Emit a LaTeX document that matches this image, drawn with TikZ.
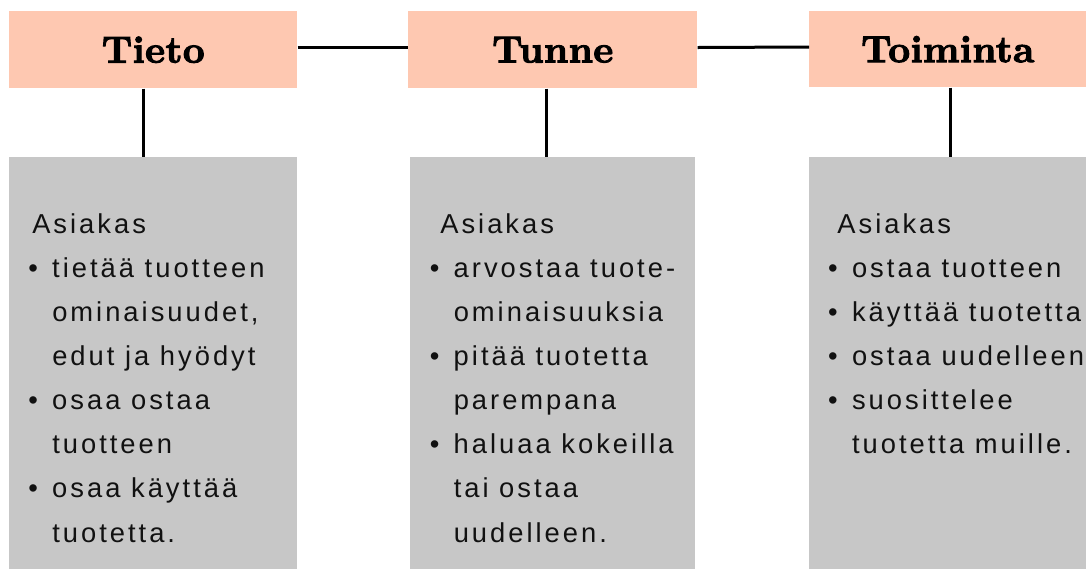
\documentclass[tikz,border=0pt]{standalone}
\usepackage{fontspec}
\usetikzlibrary{calc}
\newfontfamily\bodyfont[LetterSpace=11]{Liberation Sans}
\newfontfamily\headfont[FakeBold=2.6,LetterSpace=1]{lmroman10-bold.otf}
\definecolor{peach}{HTML}{FEC8B1}
\definecolor{panelgray}{HTML}{C7C7C7}
\definecolor{ink}{HTML}{111111}
% list helpers: bullet column and continuation indent
\newcommand\bul{\makebox[18pt][l]{•}}
\newcommand\ind{\hspace*{18pt}}
\newcommand\panel[2]{\parbox[t]{200pt}{\raggedright\parindent=0pt
  \fontsize{20.5pt}{33.08pt}\selectfont\bodyfont\hspace*{#1}Asiakas\\#2}}
\begin{document}
\begin{tikzpicture}[x=0.75pt,y=-0.75pt,
  headbox/.style={anchor=north west,fill=peach,inner sep=0pt,
    font=\fontsize{28.5pt}{29pt}\selectfont\headfont,text=black},
  bodybox/.style={anchor=north west,fill=panelgray,inner sep=0pt},
  bodytext/.style={anchor=base west,inner sep=0pt,text=ink},
  link/.style={line width=2.25pt,black}]
\useasboundingbox (0,0) rectangle (1086,569);

% header boxes
\node[headbox,minimum width=288*0.75pt,minimum height=77*0.75pt] (h1) at (9,11) {\raisebox{-1.5pt}{Tieto}};
\node[headbox,minimum width=289*0.75pt,minimum height=77*0.75pt] (h2) at (408,11) {\raisebox{-1.5pt}{Tunne}};
\node[headbox,minimum width=277*0.75pt,minimum height=76*0.75pt] (h3) at (809,11) {\raisebox{-1.5pt}{Toiminta}};

% content panels
\node[bodybox,minimum width=288*0.75pt,minimum height=412*0.75pt] (b1) at (9,157) {};
\node[bodybox,minimum width=285*0.75pt,minimum height=412*0.75pt] (b2) at (410,157) {};
\node[bodybox,minimum width=277*0.75pt,minimum height=412*0.75pt] (b3) at (809,157) {};

% connectors between the headers
\draw[link] ([yshift=1.7pt]h1.east) -- ([yshift=1.7pt]h2.west);
\draw[link] ([yshift=1.7pt]h2.east) -- ([yshift=1.7pt]h3.west);

% drop lines from each header to its panel
\coordinate (d1) at ($(h1.south west)!0.465!(h1.south east)$);
\coordinate (d2) at ($(h2.south west)!0.4775!(h2.south east)$);
\coordinate (d3) at ($(h3.south west)!0.509!(h3.south east)$);
\draw[link] (d1) -- (d1 |- b1.north);
\draw[link] (d2) -- (d2 |- b2.north);
\draw[link] (d3) -- (d3 |- b3.north);

% panel texts
\node[bodytext] (t1) at (28,233.3) {\panel{3pt}{%
\bul tietää tuotteen\\
\ind ominaisuudet,\\
\ind edut ja hyödyt\\
\bul osaa ostaa\\
\ind tuotteen\\
\bul osaa käyttää\\
\ind tuotetta.}};
\node[bodytext] (t2) at (429.5,233.3) {\panel{7.9pt}{%
\bul arvostaa tuote-\\
\ind ominaisuuksia\\
\bul pitää tuotetta\\
\ind parempana\\
\bul haluaa kokeilla\\
\ind tai ostaa\\
\ind uudelleen.}};
\node[bodytext] (t3) at (827.8,233.3) {\panel{7pt}{%
\bul ostaa tuotteen\\
\bul käyttää tuotetta\\
\bul ostaa uudelleen\\
\bul suosittelee\\
\ind tuotetta muille.}};
\end{tikzpicture}
\end{document}
